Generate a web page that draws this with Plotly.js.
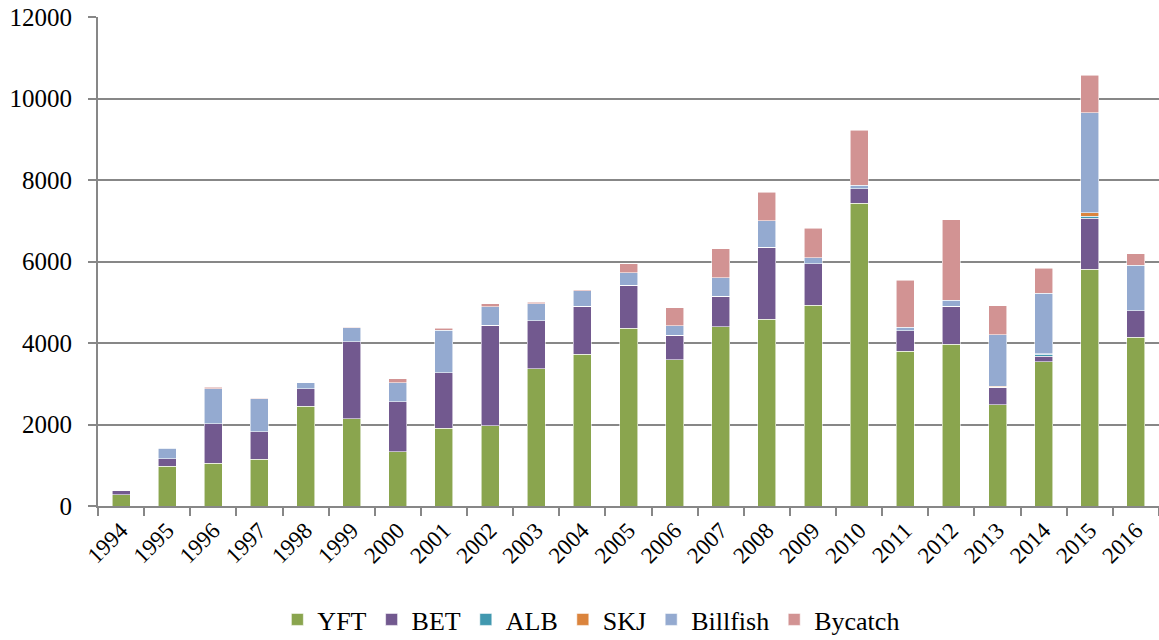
<!DOCTYPE html>
<html>
<head>
<meta charset="utf-8">
<script src="https://cdn.plot.ly/plotly-3.0.1.min.js"></script>
<style>html,body{margin:0;padding:0;background:#fff;}#chart{width:1159px;height:640px;}</style>
</head>
<body>
<div id="chart"></div>
<script>
const years = ["1994","1995","1996","1997","1998","1999","2000","2001","2002","2003","2004","2005","2006","2007","2008","2009","2010","2011","2012","2013","2014","2015","2016"];
const YFT = [282,970,1050,1150,2442,2140,1330,1902,1975,3366,3718,4356,3587,4405,4584,4928,7426,3799,3964,2480,3540,5814,4145];
const BET = [105,195,967,670,434,1890,1227,1374,2462,1178,1185,1063,605,744,1770,1015,354,502,937,430,130,1249,649];
const ALB = [0,0,0,0,0,0,0,0,0,0,0,0,0,0,0,0,0,0,0,0,57,50,0];
const SKJ = [0,0,0,0,0,0,0,0,0,0,0,0,0,0,0,0,0,0,0,30,15,82,0];
const Billfish = [10,250,866,818,147,343,466,1031,451,425,385,304,230,451,648,155,90,90,148,1262,1480,2454,1111];
const Bycatch = [0,10,32,10,5,10,98,57,81,32,25,228,442,712,702,712,1357,1144,1974,708,609,921,287];

const seriesDefs = [
  {name:"YFT", y:YFT, color:"#8aa54e"},
  {name:"BET", y:BET, color:"#72598f"},
  {name:"ALB", y:ALB, color:"#4198af"},
  {name:"SKJ", y:SKJ, color:"#db843d"},
  {name:"Billfish", y:Billfish, color:"#94aad0"},
  {name:"Bycatch", y:Bycatch, color:"#d29393"}
];

const traces = seriesDefs.map(s => ({
  type: "bar",
  name: s.name,
  x: years,
  y: s.y,
  marker: {color: s.color, line: {color: "rgba(255,255,255,0.7)", width: 0.8}},
  hoverinfo: "x+y+name"
}));

const serif = "Liberation Serif";

const layout = {
  width: 1159, height: 640,
  margin: {l: 98, r: 0, t: 17, b: 134},
  paper_bgcolor: "#fff", plot_bgcolor: "#fff",
  barmode: "stack",
  bargap: 0.61,
  font: {family: serif, color: "#000", size: 22},
  xaxis: {
    type: "category",
    tickson: "boundaries",
    ticks: "outside", ticklen: 8, tickwidth: 2, tickcolor: "#878787",
    showline: true, linecolor: "#878787", linewidth: 2,
    showgrid: false,
    tickangle: -45,
    tickfont: {family: serif, size: 23, color: "#000"},
    range: [-0.5, 22.5],
    automargin: false
  },
  yaxis: {
    range: [0, 12000],
    dtick: 2000,
    tickformat: "d",
    showgrid: true, gridcolor: "#878787", gridwidth: 2,
    showline: true, linecolor: "#878787", linewidth: 2,
    ticks: "outside", ticklen: 8, tickwidth: 2, tickcolor: "#878787",
    ticklabelstandoff: 11,
    tickfont: {family: serif, size: 25, color: "#000"},
    zeroline: false,
    automargin: false
  },
  showlegend: true,
  legend: {
    orientation: "h",
    x: 0.465, xanchor: "center",
    yref: "container",
    y: 0.032, yanchor: "middle",
    font: {family: serif, size: 26, color: "#000"},
    traceorder: "normal",
    itemwidth: 30,
    tracegroupgap: 0
  }
};

Plotly.newPlot("chart", traces, layout, {displayModeBar: false, staticPlot: true});
</script>
</body>
</html>
